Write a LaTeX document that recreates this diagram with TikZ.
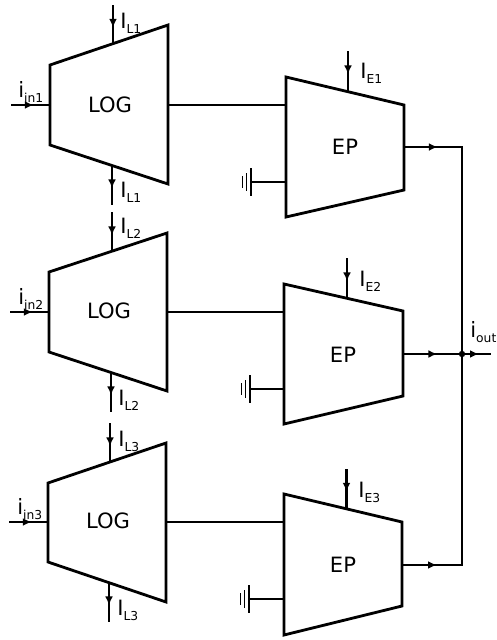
\documentclass[tikz,border=0pt]{standalone}
\usepackage{xcolor}
\usepackage{fontspec}
\setmainfont{DejaVu Sans}
\usepackage{tikz}
\usetikzlibrary{arrows.meta,decorations.markings}
\newcommand{\curlab}[2]{#1\raisebox{-0.45ex}{\fontsize{7}{8}\selectfont #2}}
\tikzset{
  block/.style={line width=1.6pt, line join=miter},
  wire/.style={line width=1.6pt},
  thinwire/.style={line width=1.3pt},
  flow/.style={postaction={decorate}, decoration={markings,
    mark=at position 0.58 with {\arrow{Latex[length=5pt,width=4.5pt]}}}},
  curlabel/.style={anchor=base west, inner sep=0pt, font=\fontsize{12}{14}\selectfont},
  title/.style={inner sep=0pt, font=\fontsize{12}{14}\selectfont}
}
\begin{document}
\begin{tikzpicture}[x=0.02cm,y=-0.02cm]
\useasboundingbox (0,0) rectangle (497,640);
% log blocks
\draw[block] (50,65) -- (168,25) -- (168,184) -- (50,145) -- cycle;
\draw[block] (49,272) -- (167,233) -- (167,391) -- (49,352) -- cycle;
\draw[block] (48,483) -- (166,443) -- (166,602) -- (48,562) -- cycle;
\node[title] (log1) at (110,105) {LOG};
\node[title] (log2) at (109,311) {LOG};
\node[title] (log3) at (108,521) {LOG};
% ep blocks
\draw[block] (286,77) -- (404,105) -- (404,190) -- (286,217) -- cycle;
\draw[block] (284,284) -- (403,311) -- (403,396) -- (284,424) -- cycle;
\draw[block] (284,494) -- (402,522) -- (402,606) -- (284,635) -- cycle;
\node[title] (ep1) at (345,147) {EP};
\node[title] (ep2) at (343,355) {EP};
\node[title] (ep3) at (343,565) {EP};
% terminals
\coordinate (in1) at (11,105);   \coordinate (log1w) at (50,105);
\coordinate (in2) at (10,312);   \coordinate (log2w) at (49,312);
\coordinate (in3) at (9,522);    \coordinate (log3w) at (48,522);
\coordinate (log1e) at (168,105); \coordinate (ep1w) at (286,105);
\coordinate (log2e) at (167,312); \coordinate (ep2w) at (284,312);
\coordinate (log3e) at (166,522); \coordinate (ep3w) at (284,522);
\coordinate (l1a) at (113,5);   \coordinate (log1n) at (113,44);
\coordinate (log1s) at (112,165); \coordinate (l1b) at (112,205);
\coordinate (l2a) at (112,212); \coordinate (log2n) at (112,252);
\coordinate (log2s) at (111,372); \coordinate (l2b) at (111,412);
\coordinate (l3a) at (110,423); \coordinate (log3n) at (110,463);
\coordinate (log3s) at (109,582); \coordinate (l3b) at (109,622);
\coordinate (e1a) at (348,51);  \coordinate (ep1n) at (348,91);
\coordinate (e2a) at (347,258); \coordinate (ep2n) at (347,298);
\coordinate (e3a) at (346.5,469); \coordinate (ep3n) at (346.5,508);
\coordinate (ep1e) at (404,147); \coordinate (bus1) at (462,147);
\coordinate (ep2e) at (403,354); \coordinate (bus2) at (462,354);
\coordinate (ep3e) at (402,565); \coordinate (bus3) at (462,565);
\coordinate (out) at (491,354);
\coordinate (g1) at (251,182); \coordinate (ep1g) at (286,182);
\coordinate (g2) at (250,389); \coordinate (ep2g) at (284,389);
\coordinate (g3) at (249,599); \coordinate (ep3g) at (284,599);
% inputs
\draw[wire,flow] (in1) -- (log1w);
\draw[wire,flow] (in2) -- (log2w);
\draw[wire,flow] (in3) -- (log3w);
\draw[wire] (log1e) -- (ep1w);
\draw[wire] (log2e) -- (ep2w);
\draw[wire] (log3e) -- (ep3w);
% log bias
\draw[wire,flow] (l1a) -- (log1n);
\draw[wire,flow] (log1s) -- (l1b);
\draw[wire,flow] (l2a) -- (log2n);
\draw[wire,flow] (log2s) -- (l2b);
\draw[wire,flow] (l3a) -- (log3n);
\draw[wire,flow] (log3s) -- (l3b);
% ep bias
\draw[thinwire,flow] (e1a) -- (ep1n);
\draw[thinwire,flow] (e2a) -- (ep2n);
\draw[thinwire,flow] (e3a) -- (ep3n);
% outputs
\draw[wire,flow] (ep1e) -- (bus1);
\draw[wire,flow] (ep2e) -- (bus2);
\draw[wire,flow] (ep3e) -- (bus3);
\draw[wire,line cap=rect] (bus1) -- (bus3);
\draw[wire,flow] (bus2) -- (out);
\fill (bus2) circle (3.2);
% grounds
\draw[wire] (g1) -- (ep1g);
\draw[wire] (g2) -- (ep2g);
\draw[wire] (g3) -- (ep3g);
\draw[wire] (g1) ++(0,-14) -- ++(0,28);
\draw[wire] (g2) ++(0,-14) -- ++(0,28);
\draw[wire] (g3) ++(0,-14) -- ++(0,28);
\draw[line width=1pt] (g1) ++(-4.5,-9) -- ++(0,18);
\draw[line width=1pt] (g2) ++(-4.5,-9) -- ++(0,18);
\draw[line width=1pt] (g3) ++(-4.5,-9) -- ++(0,18);
\draw[line width=1pt] (g1) ++(-8.5,-6) -- ++(0,12);
\draw[line width=1pt] (g2) ++(-8.5,-6) -- ++(0,12);
\draw[line width=1pt] (g3) ++(-8.5,-6) -- ++(0,12);
% labels
\node[curlabel] (iin1) at (18,97) {\curlab{i}{in1}};
\node[curlabel] (iin2) at (18,304) {\curlab{i}{in2}};
\node[curlabel] (iin3) at (17,514) {\curlab{i}{in3}};
\node[curlabel] (il1a) at (120,28) {\curlab{I}{L1}};
\node[curlabel] (il1b) at (120,197) {\curlab{I}{L1}};
\node[curlabel] (il2a) at (120,233) {\curlab{I}{L2}};
\node[curlabel] (il2b) at (118,405) {\curlab{I}{L2}};
\node[curlabel] (il3a) at (118,446) {\curlab{I}{L3}};
\node[curlabel] (il3b) at (117,615) {\curlab{I}{L3}};
\node[curlabel] (ie1) at (360,78) {\curlab{I}{E1}};
\node[curlabel] (ie2) at (359,286) {\curlab{I}{E2}};
\node[curlabel] (ie3) at (358,497) {\curlab{I}{E3}};
\node[curlabel] (iout) at (470,337) {\curlab{i}{out}};
\end{tikzpicture}
\end{document}
